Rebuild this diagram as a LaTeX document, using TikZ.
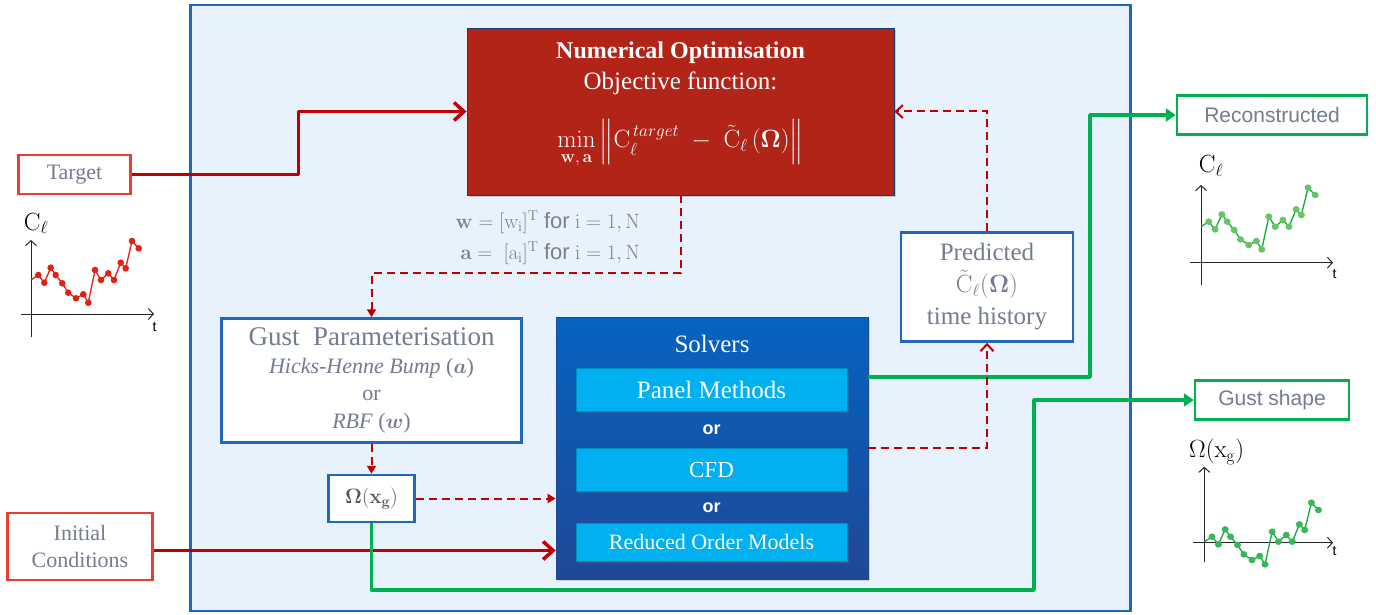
\documentclass[tikz,border=0pt]{standalone}
\usepackage{amsmath}
\usepackage{amsfonts}
\usepackage[no-math]{fontspec}
\setmainfont{Liberation Serif}
\setsansfont{Liberation Sans}
\usetikzlibrary{positioning}
\usetikzlibrary{arrows.meta,shadows,calc}

\definecolor{frameblue}{RGB}{31,104,186}
\definecolor{framefill}{RGB}{232,242,252}
\definecolor{optred}{RGB}{178,36,24}
\definecolor{linkred}{RGB}{192,0,0}
\definecolor{inred}{RGB}{232,64,48}
\definecolor{outgreen}{RGB}{0,176,80}
\definecolor{labelgray}{RGB}{115,124,145}
\definecolor{notegray}{RGB}{128,128,128}
\definecolor{omegagray}{RGB}{85,85,95}
\definecolor{methodcyan}{RGB}{0,176,240}
\definecolor{solvertop}{RGB}{5,99,193}
\definecolor{solverbot}{RGB}{31,72,150}
\definecolor{dotred}{RGB}{226,32,20}
\definecolor{dotgreen}{RGB}{104,196,100}
\definecolor{curvegreen}{RGB}{20,170,60}

\tikzset{frame box/.style={shape=rectangle, draw=frameblue, line width=2.5pt,
    fill=framefill, minimum width=940pt, minimum height=606pt},
  opt box/.style={shape=rectangle, draw=frameblue!60!black, line width=0.8pt,
    fill=optred, minimum width=427pt, minimum height=167pt,
    drop shadow={opacity=0.35, shadow xshift=2pt, shadow yshift=-2pt}},
  opt text/.style={text=white, inner sep=0pt},
  note text/.style={text=notegray, inner sep=0pt, font=\fontsize{22}{24}\selectfont},
  in box/.style={shape=rectangle, draw=inred, line width=2.5pt, fill=white,
    text=labelgray, align=center, font=\fontsize{22}{26.5}\selectfont},
  out box/.style={shape=rectangle, draw=outgreen, line width=2.5pt, fill=white,
    text=labelgray, font=\sffamily\fontsize{21}{24}\selectfont},
  gust box/.style={shape=rectangle, draw=frameblue, line width=2.5pt, fill=white,
    text=labelgray, align=center},
  solver box/.style={shape=rectangle, draw=solverbot, line width=0.6pt,
    top color=solvertop, bottom color=solverbot, minimum width=312pt, minimum height=262pt,
    drop shadow={opacity=0.3, shadow xshift=2pt, shadow yshift=-2pt}},
  method box/.style={shape=rectangle, draw=methodcyan!80!black, line width=0.5pt,
    fill=methodcyan, text=white, minimum width=271pt, minimum height=43pt,
    font=\fontsize{25}{28}\selectfont,
    drop shadow={opacity=0.3, shadow xshift=1.5pt, shadow yshift=-1.5pt}},
  or text/.style={text=white, inner sep=0pt, font=\sffamily\bfseries\fontsize{18}{20}\selectfont},
  red link/.style={draw=linkred, line width=3.5pt, line join=round,
    -{Straight Barb[length=10pt,width=18pt]}},
  dash link/.style={draw=linkred, line width=2pt, dash pattern=on 8pt off 5pt},
  green link/.style={draw=outgreen, line width=3.5pt, line join=round,
    -{Triangle[length=10pt,width=13pt]}},
  plot axis/.style={draw=black!85, line width=1pt, -{Straight Barb[length=5pt,width=11pt]}},
  pics/cl trace/.style 2 args={code={
    \draw[#1, line width=1.3pt, line join=round] (0,0) -- (7.3,-5) -- (13.3,2.7) -- (19.7,-12.3)
      -- (24.7,-5) -- (31.3,3.3) -- (37.3,12.7) -- (45,18.3) -- (52.3,14.3) -- (57.3,22.7)
      -- (64,-10) -- (70,0) -- (77.3,-6.7) -- (83,0) -- (89.7,-17.3) -- (94.7,-11.7)
      -- (101,-39) -- (107.7,-31.7);
    \foreach \px/\py in {7.3/-5, 13.3/2.7, 19.7/-12.3, 24.7/-5, 31.3/3.3, 37.3/12.7, 45/18.3,
        52.3/14.3, 57.3/22.7, 64/-10, 70/0, 77.3/-6.7, 83/0, 89.7/-17.3, 94.7/-11.7,
        101/-39, 107.7/-31.7}
      \fill[#2] (\px,\py) circle (3.3pt);
  }}}

\begin{document}
\begin{tikzpicture}[x=1pt, y=-1pt]
    \useasboundingbox (0,0) rectangle (1376,615);

    \node[frame box] (frame) at (660.7,308) {};

    % optimiser
    \node[opt box] (opt) at (680.5,111.5) {};
    \node[opt text, anchor=base, font=\bfseries\fontsize{24}{28}\selectfont] (opttitle) at (680.5,59) {Numerical Optimisation};
    \node[opt text, anchor=base, font=\fontsize{25}{28}\selectfont] (optobj) at (680.5,90) {Objective function:};
    \node[opt text, anchor=base, font=\fontsize{25}{28}\selectfont] (optmin) at (680.5,148)
        {$\displaystyle\min_{\mathbf{w},\,\mathbf{a}}\Big\|\mathrm{C}_{\ell}^{\,target}\;-\;\tilde{\mathrm{C}}_{\ell}\,(\mathbf{\Omega})\Big\|$};

    \node[note text, anchor=base east] (wnote) at (640,228) {$\mathbf{w}=[\mathrm{w}_{\mathrm{i}}]^{\mathrm{T}}$ \textsf{for} $\mathrm{i}=1,\mathrm{N}$};
    \node[note text, anchor=base east] (anote) at (640,259) {$\mathbf{a}=\ [\mathrm{a}_{\mathrm{i}}]^{\mathrm{T}}$ \textsf{for} $\mathrm{i}=1,\mathrm{N}$};

    % inputs
    \node[in box, minimum width=112pt, minimum height=39pt] (target) at (74.5,174.5) {Target};
    \node[in box, minimum width=145pt, minimum height=67pt] (init) at (80,546.5) {Initial\\Conditions};

    % gust
    \node[gust box, minimum width=300pt, minimum height=124pt, font=\fontsize{22}{27.5}\selectfont] (gust) at (371.5,380.5)
        {{\fontsize{27}{27.5}\selectfont Gust\ \ Parameterisation}\\
         \textit{Hicks-Henne Bump} ($\boldsymbol{a}$)\\ or\\ \textit{RBF} ($\boldsymbol{w}$)};
    \node[gust box, minimum width=86pt, minimum height=47pt, text=omegagray,
        font=\fontsize{21}{24}\selectfont] (omega) [below=30pt of gust] {$\mathbf{\Omega}(\mathbf{x}_{\mathbf{g}})$};

    % solvers
    \node[solver box] (solvers) at (712,448) {};
    \node[opt text, anchor=base, font=\fontsize{25}{28}\selectfont] (solvtitle) at (712,352.5) {Solvers};
    \node[method box] (panel) at (711.5,389.7) {Panel Methods};
    \node[method box, font=\fontsize{23}{26}\selectfont] (cfd) [below=37pt of panel] {CFD};
    \node[method box, minimum height=38pt, font=\fontsize{22}{24}\selectfont] (rom) [below=31pt of cfd] {Reduced Order Models};
    \node[or text] (or1) at ($(panel.south)!0.5!(cfd.north)$) {or};
    \node[or text] (or2) at ($(cfd.south)!0.5!(rom.north)$) {or};

    \node[gust box, minimum width=172pt, minimum height=109pt, font=\fontsize{25}{32}\selectfont] (pred) at (987,287)
        {Predicted\\$\tilde{\mathrm{C}}_{\ell}(\mathbf{\Omega})$\\time history};

    % outputs
    \node[out box, minimum width=190pt, minimum height=39pt] (recon) at (1272,115) {Reconstructed};
    \node[out box, minimum width=154pt, minimum height=39pt] (gshape) at (1272,400) {Gust shape};

    \coordinate (rturn) at (1090,377);
    \coordinate (gturn) at (1034,590);

    \draw[red link] (target.east) -| ($(opt.west)+(-168,0)$) -- (opt.west);
    \draw[red link] ([yshift=-4pt]init.east) -- ([yshift=-4pt]init.east -| solvers.west);

    \draw[green link] (solvers.east |- rturn) -- (rturn) |- (recon.west);
    \draw[green link] (omega.south) |- (gturn) |- (gshape.west);

    \draw[dash link, -{Triangle[length=8pt,width=9pt]}] (opt.south) -- ++(0,78) -| (gust.north);
    \draw[dash link, -{Triangle[length=8pt,width=9pt]}] (gust.south) -- (omega.north);
    \draw[dash link, -{Triangle[length=8pt,width=9pt]}] (omega.east) -- (omega.east -| solvers.west);
    \draw[dash link, -{Straight Barb[length=7pt,width=13pt]}] (solvers.east) -| (pred.south);
    \draw[dash link, -{Straight Barb[length=7pt,width=13pt]}] (pred.north) |- (opt.east);

    % plots
    \draw[plot axis] (31,337) -- (31,240);
    \draw[plot axis] (20.7,314) -- (154,314);
    \pic at (31,280) {cl trace={dotred}{dotred}};
    \node[font=\fontsize{24}{26}\selectfont, anchor=base] (tcl) at (36,230) {$\mathrm{C}_{\ell}$};
    \node[font=\sffamily\fontsize{14}{16}\selectfont] (tt) at (154.5,327) {t};

    \draw[plot axis] (1201,285) -- (1201,185);
    \draw[plot axis] (1190,262.7) -- (1333,262.7);
    \pic[xscale=1.06] at (1201,226.7) {cl trace={curvegreen}{dotgreen}};
    \node[font=\fontsize{24}{26}\selectfont, anchor=base] (rcl) at (1211,172.5) {$\mathrm{C}_{\ell}$};
    \node[font=\sffamily\fontsize{14}{16}\selectfont] (rt) at (1334.5,274) {t};

    \draw[plot axis] (1204.3,561.7) -- (1204.3,466.7);
    \draw[plot axis] (1193,542.7) -- (1333,542.7);
    \pic[xscale=1.06] at (1204.3,541.7) {cl trace={curvegreen}{curvegreen!85!white}};
    \node[font=\fontsize{25}{28}\selectfont, anchor=base] (gom) at (1216.7,457.5) {$\Omega(\mathrm{x}_{\mathrm{g}})$};
    \node[font=\sffamily\fontsize{14}{16}\selectfont] (gt) at (1334.5,551) {t};
\end{tikzpicture}
\end{document}
